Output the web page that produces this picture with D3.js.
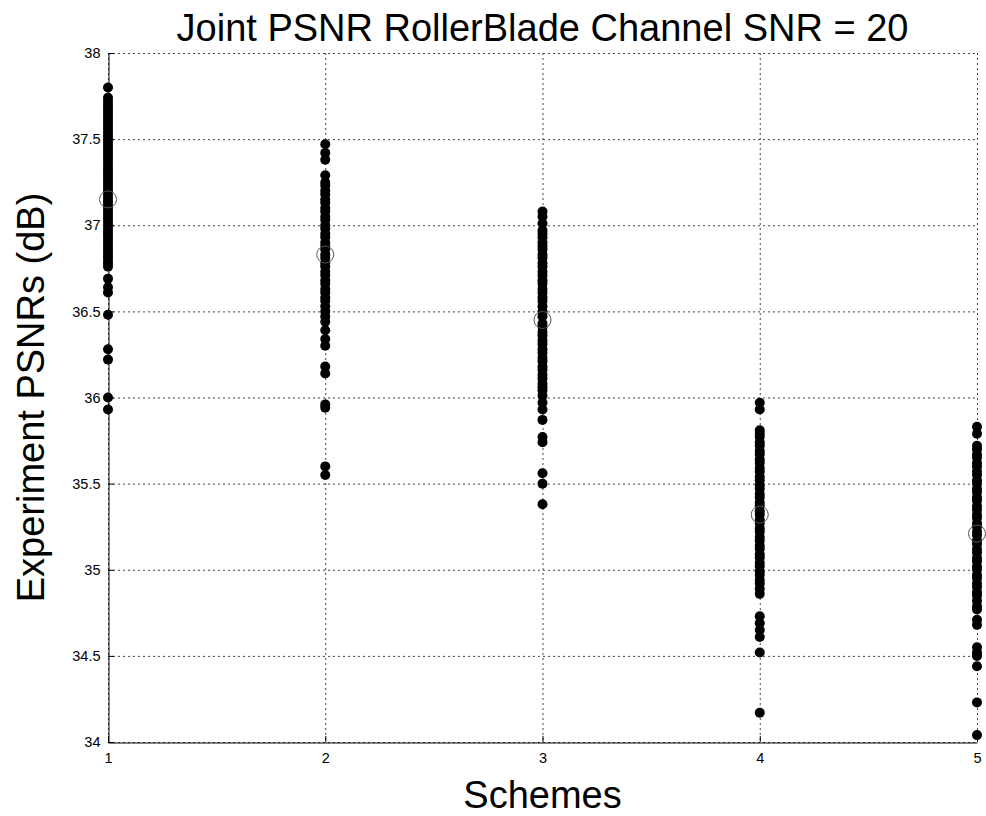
<!DOCTYPE html>
<html>
<head>
<meta charset="utf-8">
<script src="https://cdn.jsdelivr.net/npm/d3@7"></script>
<style>
  body { margin: 0; background: #fff; }
  svg { display: block; font-family: "Liberation Sans", Arial, sans-serif; }
</style>
</head>
<body>
<svg id="chart" width="986" height="816"></svg>
<script>
// scheme ids on the x axis
const schemes = [1, 2, 3, 4, 5];

// PSNR samples per scheme (dB)
const scheme1 = [37.80, 37.74, 37.72, 37.70, 37.68, 37.66, 37.64, 37.62, 37.60, 37.58, 37.56, 37.54, 37.52, 37.50,
  37.48, 37.46, 37.44, 37.42, 37.40, 37.38, 37.36, 37.34, 37.32, 37.30, 37.28, 37.26, 37.24, 37.22, 37.20, 37.18,
  37.16, 37.14, 37.12, 37.10, 37.08, 37.06, 37.04, 37.02, 37.00, 36.98, 36.96, 36.94, 36.92, 36.90, 36.88, 36.86,
  36.84, 36.82, 36.80, 36.78, 36.76, 36.69, 36.64, 36.61, 36.48, 36.28, 36.22, 36.00, 35.93];
const scheme2 = [37.47, 37.42, 37.38, 37.29, 37.25, 37.23, 37.20, 37.18, 37.15, 37.13, 37.10, 37.08, 37.05, 37.03,
  37.00, 36.98, 36.95, 36.93, 36.90, 36.88, 36.86, 36.83, 36.81, 36.78, 36.76, 36.73, 36.71, 36.68, 36.66, 36.63,
  36.61, 36.58, 36.56, 36.53, 36.50, 36.47, 36.44, 36.39, 36.34, 36.30, 36.18, 36.14, 35.96, 35.94, 35.60, 35.55];
const scheme3 = [37.08, 37.05, 37.01, 36.97, 36.95, 36.93, 36.90, 36.88, 36.86, 36.83, 36.81, 36.78, 36.76, 36.73,
  36.71, 36.68, 36.66, 36.63, 36.61, 36.58, 36.56, 36.53, 36.50, 36.47, 36.43, 36.41, 36.38, 36.36, 36.33, 36.31,
  36.28, 36.26, 36.23, 36.21, 36.18, 36.16, 36.13, 36.11, 36.08, 36.06, 36.04, 36.01, 35.97, 35.93, 35.87, 35.77,
  35.74, 35.56, 35.50, 35.38];
const scheme4 = [35.97, 35.93, 35.81, 35.79, 35.77, 35.74, 35.72, 35.69, 35.67, 35.64, 35.62, 35.59, 35.57, 35.54,
  35.52, 35.49, 35.47, 35.44, 35.42, 35.39, 35.37, 35.34, 35.32, 35.29, 35.27, 35.24, 35.22, 35.19, 35.17, 35.14,
  35.12, 35.09, 35.07, 35.04, 35.02, 34.99, 34.97, 34.94, 34.92, 34.89, 34.86, 34.73, 34.69, 34.65, 34.61, 34.52,
  34.17];
const scheme5 = [35.83, 35.79, 35.72, 35.70, 35.67, 35.65, 35.62, 35.60, 35.57, 35.55, 35.52, 35.50, 35.47, 35.45,
  35.42, 35.40, 35.37, 35.35, 35.32, 35.30, 35.27, 35.25, 35.22, 35.20, 35.17, 35.15, 35.12, 35.10, 35.07, 35.05,
  35.02, 35.00, 34.97, 34.95, 34.92, 34.90, 34.87, 34.85, 34.82, 34.79, 34.77, 34.71, 34.68, 34.55, 34.52, 34.50,
  34.44, 34.23, 34.04];

// mean PSNR per scheme (open circles)
const means = [37.15, 36.83, 36.45, 35.32, 35.21];

const yTicks = [34, 34.5, 35, 35.5, 36, 36.5, 37, 37.5, 38];

const samples = [scheme1, scheme2, scheme3, scheme4, scheme5];

const plotLeft = 108, plotRight = 977, plotTop = 53, plotBottom = 742;

const svg = d3.select('#chart');

const x = d3.scaleLinear().domain([1, 5]).range([plotLeft, plotRight]);
const y = d3.scaleLinear().domain([34, 38]).range([plotBottom, plotTop]);

// grid
const grid = svg.append('g')
  .attr('stroke', '#444')
  .attr('stroke-width', 1)
  .attr('stroke-dasharray', '2,3');

grid.selectAll('line.h')
  .data(yTicks)
  .enter()
  .append('line')
  .attr('x1', plotLeft).attr('x2', plotRight)
  .attr('y1', d => y(d) + 0.5).attr('y2', d => y(d) + 0.5);

grid.selectAll('line.v')
  .data(schemes)
  .enter()
  .append('line')
  .attr('x1', d => x(d) + 0.5).attr('x2', d => x(d) + 0.5)
  .attr('y1', plotTop).attr('y2', plotBottom);

// axes
const xAxis = d3.axisBottom(x).tickValues(schemes).tickFormat(d3.format('d')).tickSize(0).tickPadding(10);
const yAxis = d3.axisLeft(y).tickValues(yTicks).tickFormat(d => d).tickSize(0).tickPadding(8);

const gx = svg.append('g').attr('transform', `translate(0,${plotBottom + 0.5})`).call(xAxis);
const gy = svg.append('g').attr('transform', `translate(${plotLeft + 0.5},0)`).call(yAxis);

[gx, gy].forEach(g => {
  g.select('.domain').attr('stroke', '#000');
  g.selectAll('text').attr('font-size', 14.5).attr('fill', '#000')
    .attr('font-family', '"Liberation Sans", Arial, sans-serif');
});

// inward tick marks
svg.append('g').attr('stroke', '#000')
  .selectAll('line')
  .data(yTicks)
  .enter()
  .append('line')
  .attr('x1', plotLeft).attr('x2', plotLeft + 6)
  .attr('y1', d => y(d) + 0.5).attr('y2', d => y(d) + 0.5);

svg.append('g').attr('stroke', '#000')
  .selectAll('line')
  .data(schemes)
  .enter()
  .append('line')
  .attr('x1', d => x(d) + 0.5).attr('x2', d => x(d) + 0.5)
  .attr('y1', plotBottom).attr('y2', plotBottom - 6);

// sample dots
const dots = samples.flatMap((vals, i) => vals.map(v => ({ s: schemes[i], v })));

svg.append('g')
  .selectAll('circle')
  .data(dots)
  .enter()
  .append('circle')
  .attr('cx', d => x(d.s))
  .attr('cy', d => y(d.v))
  .attr('r', 5)
  .attr('fill', '#000');

// mean markers
svg.append('g')
  .selectAll('circle')
  .data(means)
  .enter()
  .append('circle')
  .attr('cx', (d, i) => x(schemes[i]))
  .attr('cy', d => y(d))
  .attr('r', 8.5)
  .attr('fill', 'none')
  .attr('stroke', '#555')
  .attr('stroke-width', 1);

// labels
svg.append('text')
  .attr('x', (plotLeft + plotRight) / 2)
  .attr('y', 41)
  .attr('text-anchor', 'middle')
  .attr('font-size', 38)
  .text('Joint PSNR RollerBlade Channel SNR = 20');

svg.append('text')
  .attr('x', (plotLeft + plotRight) / 2)
  .attr('y', 808)
  .attr('text-anchor', 'middle')
  .attr('font-size', 38)
  .text('Schemes');

svg.append('text')
  .attr('transform', `translate(44,${(plotTop + plotBottom) / 2}) rotate(-90)`)
  .attr('text-anchor', 'middle')
  .attr('font-size', 38)
  .text('Experiment PSNRs (dB)');
</script>
</body>
</html>
